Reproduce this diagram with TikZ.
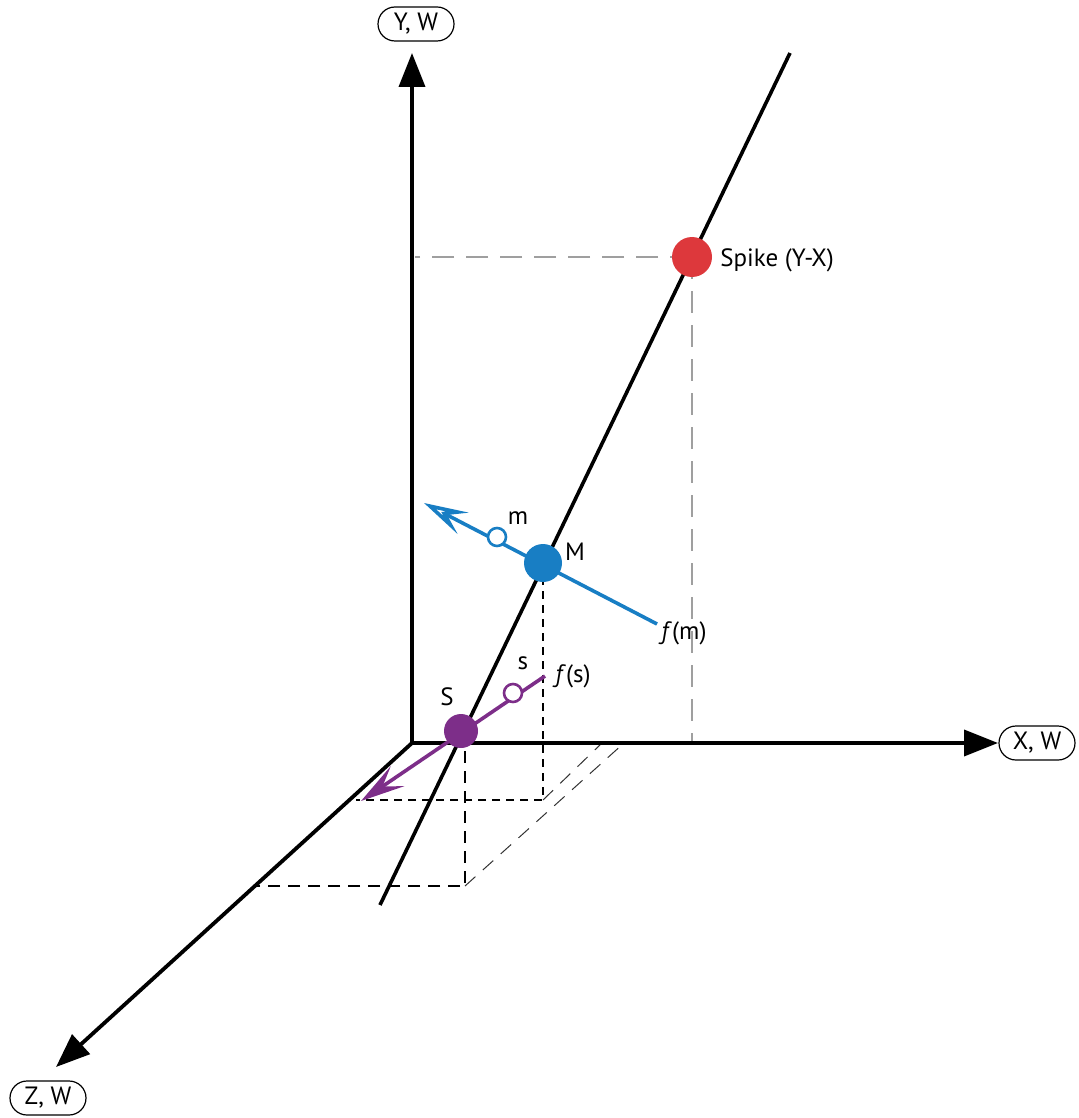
\documentclass[tikz,border=0pt]{standalone}
\usepackage{fontspec}
\setmainfont{PT Sans}
\usetikzlibrary{arrows.meta,shapes.misc,positioning}
\definecolor{spikered}{RGB}{221,56,60}
\definecolor{mblue}{RGB}{24,126,196}
\definecolor{spurple}{RGB}{125,46,137}

\begin{document}
\begin{tikzpicture}[x=0.5pt,y=-0.5pt,
  axis/.style={line width=1.9pt,-{Triangle[length=17pt,width=13pt]}},
  axlabel/.style={draw,rounded rectangle,line width=0.6pt,minimum width=38pt,minimum height=17pt,inner xsep=0pt,inner ysep=1.5pt,font=\fontsize{12.5}{14}\selectfont},
  lbl/.style={font=\fontsize{12.5}{14}\selectfont,inner sep=1pt},
  guide/.style={gray!75,line width=0.7pt,dash pattern=on 11pt off 6pt},
  dropm/.style={line width=1pt,dash pattern=on 4pt off 3pt},
  drops/.style={line width=1pt,dash pattern=on 6pt off 4pt},
  slant/.style={black!80,line width=0.5pt,dash pattern=on 7pt off 5pt},
  dot/.style={circle,inner sep=0pt,minimum size=#1},
  ring/.style={circle,draw,fill=white,line width=1.3pt,inner sep=0pt,minimum size=9pt}]
  \useasboundingbox (0,0) rectangle (1078,1118);
  % axes
  \coordinate (O) at (412,743);
  \node[axlabel] (yl) at (416,24) {Y, W};
  \node[axlabel] (xl) at (1037,743) {X, W};
  \node[axlabel] (zl) at (48,1098) {Z, W};
  \coordinate (ytip) at (412,53);
  \coordinate (xtip) at (998,743);
  \coordinate (ztip) at (56,1067);
  % guides for the spike
  \coordinate (sp) at (692,257);
  \coordinate (sy) at (415,257);
  \coordinate (sx) at (692,743);
  \draw[guide] (sp) -- (sy);
  \draw[guide] (sp) -- (sx);
  % projection boxes
  \coordinate (mc) at (543,563);
  \coordinate (mb) at (543,800);
  \coordinate (mz) at (356,800);
  \coordinate (mr) at (602,743);
  \draw[dropm] (mc) -- (mb) -- (mz);
  \draw[slant] (mb) -- (mr);
  \coordinate (sc) at (465,731);
  \coordinate (sb) at (465,886);
  \coordinate (sz) at (257,886);
  \coordinate (sr) at (624,743);
  \draw[drops] (sc) -- (sb) -- (sz);
  \draw[slant] (sb) -- (sr);
  \draw[axis] (O) -- (ytip);
  \draw[axis] (O) -- (xtip);
  \draw[axis] (O) -- (ztip);
  % the line
  \coordinate (lo) at (380,905);
  \coordinate (hi) at (790,53);
  \draw[line width=1.8pt] (lo) -- (hi);
  \node[dot=20pt,fill=spikered] (spike) at (sp) {};
  % M and its direction
  \coordinate (fm) at (657,624);
  \coordinate (mtip) at (424,503);
  \draw[mblue,line width=1.8pt,-{Stealth[open,length=22pt,width=12pt,inset=9pt]}] (fm) -- (mtip);
  \node[ring,draw=mblue] (m) at (497,537) {};
  \node[dot=19pt,fill=mblue] (M) at (mc) {};
  % S and its direction
  \coordinate (fs) at (545,676);
  \coordinate (stip) at (361,801);
  \draw[spurple,line width=1.8pt,-{Stealth[length=22pt,width=12pt,inset=9pt]}] (fs) -- (stip);
  \node[ring,draw=spurple] (s) at (513,693) {};
  \node[dot=17pt,fill=spurple] (S) at (461,731) {};
  % labels
  \node[lbl,anchor=west] at (718,260) {Spike (Y-X)};
  \node[lbl] at (518,518) {m};
  \node[lbl] at (575,552) {M};
  \node[lbl] at (684,633) {\textit{f}(m)};
  \node[lbl] at (523,663) {s};
  \node[lbl] at (447,697) {S};
  \node[lbl] at (573,676) {\textit{f}(s)};
\end{tikzpicture}
\end{document}
